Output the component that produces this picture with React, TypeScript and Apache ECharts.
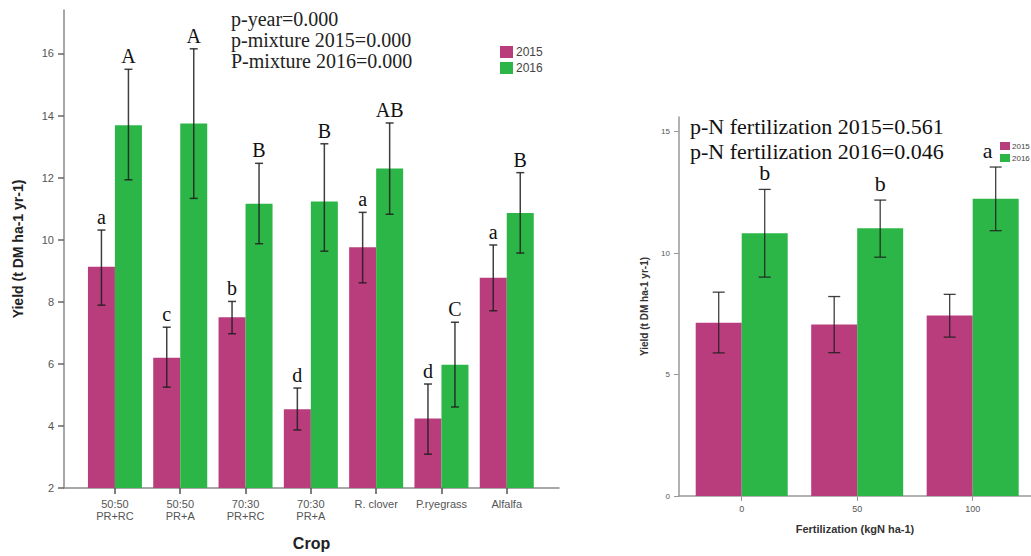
import React, { useEffect, useRef } from 'react';
import * as echarts from 'echarts';

// ---------- Left chart: yield by crop ----------
const cropCategories = ['50:50\nPR+RC', '50:50\nPR+A', '70:30\nPR+RC', '70:30\nPR+A', 'R. clover', 'P.ryegrass', 'Alfalfa'];
const crop2015 = [9.13, 6.2, 7.5, 4.54, 9.76, 4.24, 8.77];
const crop2015Low = [7.89, 5.25, 6.97, 3.87, 8.61, 3.09, 7.71];
const crop2015High = [10.31, 7.18, 8.01, 5.22, 10.88, 5.35, 9.83];
const crop2016 = [13.69, 13.74, 11.16, 11.23, 12.29, 5.97, 10.86];
const crop2016Low = [11.93, 11.33, 9.87, 9.63, 10.82, 4.61, 9.57];
const crop2016High = [15.49, 16.15, 12.46, 13.09, 13.76, 7.34, 12.16];
const cropLetters2015 = ['a', 'c', 'b', 'd', 'a', 'd', 'a'];
const cropLetters2016 = ['A', 'A', 'B', 'B', 'AB', 'C', 'B'];
const cropYTicks = [2, 4, 6, 8, 10, 12, 14, 16];
const cropPText = ['p-year=0.000', 'p-mixture 2015=0.000', 'P-mixture 2016=0.000'];

// ---------- Right chart: yield by N fertilization ----------
const fertCategories = ['0', '50', '100'];
const fert2015 = [7.13, 7.06, 7.43];
const fert2015Low = [5.89, 5.9, 6.54];
const fert2015High = [8.39, 8.21, 8.3];
const fert2016 = [10.81, 11.02, 12.23];
const fert2016Low = [9.01, 9.83, 10.92];
const fert2016High = [12.62, 12.18, 13.54];
const fertLetters2015: string[] = ['', '', ''];
const fertLetters2016 = ['b', 'b', 'a'];
const fertYTicks = [0, 5, 10, 15];
const fertPText = ['p-N fertilization 2015=0.561', 'p-N fertilization 2016=0.046'];

const years = ['2015', '2016'];

const PINK = '#B93C7D';
const GREEN = '#2DB648';
const SANS = '"Liberation Sans", Arial, sans-serif';
const SERIF = '"Liberation Serif", "Times New Roman", serif';

function errorBar(offset: number, capHalf: number, letters: string[], font: string, letterGap: number, lineWidth: number, letterDx: number[]) {
  return (params: any, api: any) => {
    const x = api.value(0);
    const lo = api.coord([x, api.value(1)]);
    const hi = api.coord([x, api.value(2)]);
    const cx = lo[0] + offset;
    const stroke = 'rgba(30,30,30,0.85)';
    const children: any[] = [
      { type: 'line', shape: { x1: cx, y1: lo[1], x2: cx, y2: hi[1] }, style: { stroke, lineWidth } },
      { type: 'line', shape: { x1: cx - capHalf, y1: lo[1], x2: cx + capHalf, y2: lo[1] }, style: { stroke, lineWidth } },
      { type: 'line', shape: { x1: cx - capHalf, y1: hi[1], x2: cx + capHalf, y2: hi[1] }, style: { stroke, lineWidth } },
    ];
    const letter = letters[params.dataIndex];
    if (letter) {
      children.push({
        type: 'text',
        style: {
          text: letter, x: cx + (letterDx[params.dataIndex] || 0), y: hi[1] - letterGap,
          align: 'center', verticalAlign: 'bottom', font, fill: '#111',
        },
      });
    }
    return { type: 'group', children };
  };
}

export default function App() {
  const ref = useRef<HTMLDivElement>(null);
  useEffect(() => {
    if (!ref.current) return;
    const chart = echarts.init(ref.current, undefined, { renderer: 'svg' });
    const axisLineColor = '#8a8a8a';
    const labelColor = '#555';

    const option: any = {
      animation: false,
      backgroundColor: '#fff',
      grid: [
        { left: 64, top: 10, width: 495, height: 482, containLabel: false },
        { left: 679, top: 117, width: 352, height: 379, containLabel: false },
      ],
      xAxis: [
        {
          type: 'value', gridIndex: 0, min: -0.78, max: 6.8,
          splitLine: { show: false },
          axisLine: { show: true, onZero: false, lineStyle: { color: axisLineColor, width: 1.5 } },
          axisTick: { show: true, customValues: cropCategories.map((_, i) => i), length: 6, lineStyle: { color: '#555', width: 1.5 } },
          axisLabel: {
            customValues: cropCategories.map((_, i) => i),
            formatter: (v: number) => cropCategories[Math.round(v)] ?? '',
            color: labelColor, fontFamily: SANS, fontSize: 11, lineHeight: 12, margin: 10,
          },
          name: 'Crop', nameLocation: 'middle', nameGap: 47,
          nameTextStyle: { fontFamily: SANS, fontWeight: 'bold', fontSize: 16, color: '#222' },
        },
        {
          type: 'value', gridIndex: 1, min: -0.543, max: 2.505,
          splitLine: { show: false },
          axisLine: { show: true, onZero: false, lineStyle: { color: '#999', width: 1.5 } },
          axisTick: { show: true, customValues: fertCategories.map((_, i) => i), length: 5, lineStyle: { color: '#999' } },
          axisLabel: {
            customValues: fertCategories.map((_, i) => i),
            formatter: (v: number) => fertCategories[Math.round(v)] ?? '',
            color: labelColor, fontFamily: SANS, fontSize: 9, margin: 8,
          },
          name: 'Fertilization (kgN ha-1)', nameLocation: 'middle', nameGap: 27,
          nameTextStyle: { fontFamily: SANS, fontWeight: 'bold', fontSize: 11, color: '#333' },
        },
      ],
      yAxis: [
        {
          type: 'value', gridIndex: 0, min: 2, max: 17.4,
          splitLine: { show: false },
          axisLine: { show: true, onZero: false, lineStyle: { color: axisLineColor, width: 1.5 } },
          axisTick: { show: true, customValues: cropYTicks, length: 6, lineStyle: { color: '#666', width: 1.5 } },
          axisLabel: { customValues: cropYTicks, color: labelColor, fontFamily: SANS, fontSize: 11, margin: 10 },
          name: 'Yield (t DM ha-1 yr-1)', nameLocation: 'middle', nameGap: 39,
          nameTextStyle: { fontFamily: SANS, fontWeight: 'bold', fontSize: 14, color: '#222' },
        },
        {
          type: 'value', gridIndex: 1, min: 0, max: 15.6,
          splitLine: { show: false },
          axisLine: { show: true, onZero: false, lineStyle: { color: '#999', width: 1.5 } },
          axisTick: { show: true, customValues: fertYTicks, length: 5, lineStyle: { color: '#999' } },
          axisLabel: { customValues: fertYTicks, color: labelColor, fontFamily: SANS, fontSize: 8, margin: 9 },
          name: 'Yield (t DM ha-1 yr-1)', nameLocation: 'middle', nameGap: 30,
          nameTextStyle: { fontFamily: SANS, fontWeight: 'bold', fontSize: 10, color: '#333' },
        },
      ],
      legend: [
        {
          data: years, orient: 'vertical', left: 495, top: 41, itemWidth: 13, itemHeight: 12, itemGap: 4,
          icon: 'rect', textStyle: { fontFamily: SANS, fontSize: 12, color: '#444', padding: [0, 0, 0, -2] },
          selectedMode: false,
        },
        {
          data: years, orient: 'vertical', left: 995, top: 137, itemWidth: 10, itemHeight: 8, itemGap: 4,
          icon: 'rect', textStyle: { fontFamily: SANS, fontSize: 8, color: '#444', padding: [0, 0, 0, -3] },
          selectedMode: false,
        },
      ],
      series: [
        {
          name: years[0], type: 'bar', xAxisIndex: 0, yAxisIndex: 0, barWidth: 27, barGap: '0%',
          itemStyle: { color: PINK }, data: crop2015.map((v, i) => [i, v]),
        },
        {
          name: years[1], type: 'bar', xAxisIndex: 0, yAxisIndex: 0, barWidth: 27, barGap: '0%',
          itemStyle: { color: GREEN }, data: crop2016.map((v, i) => [i, v]),
        },
        {
          name: years[0], type: 'bar', xAxisIndex: 1, yAxisIndex: 1, barWidth: 46, barGap: '0%',
          itemStyle: { color: PINK }, data: fert2015.map((v, i) => [i, v]),
        },
        {
          name: years[1], type: 'bar', xAxisIndex: 1, yAxisIndex: 1, barWidth: 46, barGap: '0%',
          itemStyle: { color: GREEN }, data: fert2016.map((v, i) => [i, v]),
        },
        {
          type: 'custom', xAxisIndex: 0, yAxisIndex: 0, z: 5,
          renderItem: errorBar(-13.5, 4, cropLetters2015, `20px ${SERIF}`, 3, 1.5, []),
          encode: { x: 0, y: [1, 2] },
          data: crop2015Low.map((lo, i) => [i, lo, crop2015High[i]]),
        },
        {
          type: 'custom', xAxisIndex: 0, yAxisIndex: 0, z: 5,
          renderItem: errorBar(13.5, 4, cropLetters2016, `20px ${SERIF}`, 3, 1.5, []),
          encode: { x: 0, y: [1, 2] },
          data: crop2016Low.map((lo, i) => [i, lo, crop2016High[i]]),
        },
        {
          type: 'custom', xAxisIndex: 1, yAxisIndex: 1, z: 5,
          renderItem: errorBar(-23, 6, fertLetters2015, `22px ${SERIF}`, 5.5, 1.3, []),
          encode: { x: 0, y: [1, 2] },
          data: fert2015Low.map((lo, i) => [i, lo, fert2015High[i]]),
        },
        {
          type: 'custom', xAxisIndex: 1, yAxisIndex: 1, z: 5,
          renderItem: errorBar(23, 6, fertLetters2016, `22px ${SERIF}`, 5.5, 1.3, [0, 0, -8]),
          encode: { x: 0, y: [1, 2] },
          data: fert2016Low.map((lo, i) => [i, lo, fert2016High[i]]),
        },
      ],
      graphic: [
        ...cropPText.map((t, i) => ({
          type: 'text', x: 231, y: 19 + i * 21, z: 10,
          style: { text: t, font: `20px ${SERIF}`, fill: '#222', align: 'left', verticalAlign: 'middle' },
        })),
        ...fertPText.map((t, i) => ({
          type: 'text', x: 690, y: 126 + i * 25.5, z: 10,
          style: { text: t, font: `22px ${SERIF}`, fill: '#111', align: 'left', verticalAlign: 'middle' },
        })),
      ],
    };
    chart.setOption(option);
    return () => chart.dispose();
  }, []);

  return (
    <div
      ref={ref}
      style={{ position: 'absolute', left: 0, top: 0, width: 1031, height: 556, background: '#fff' }}
    />
  );
}
